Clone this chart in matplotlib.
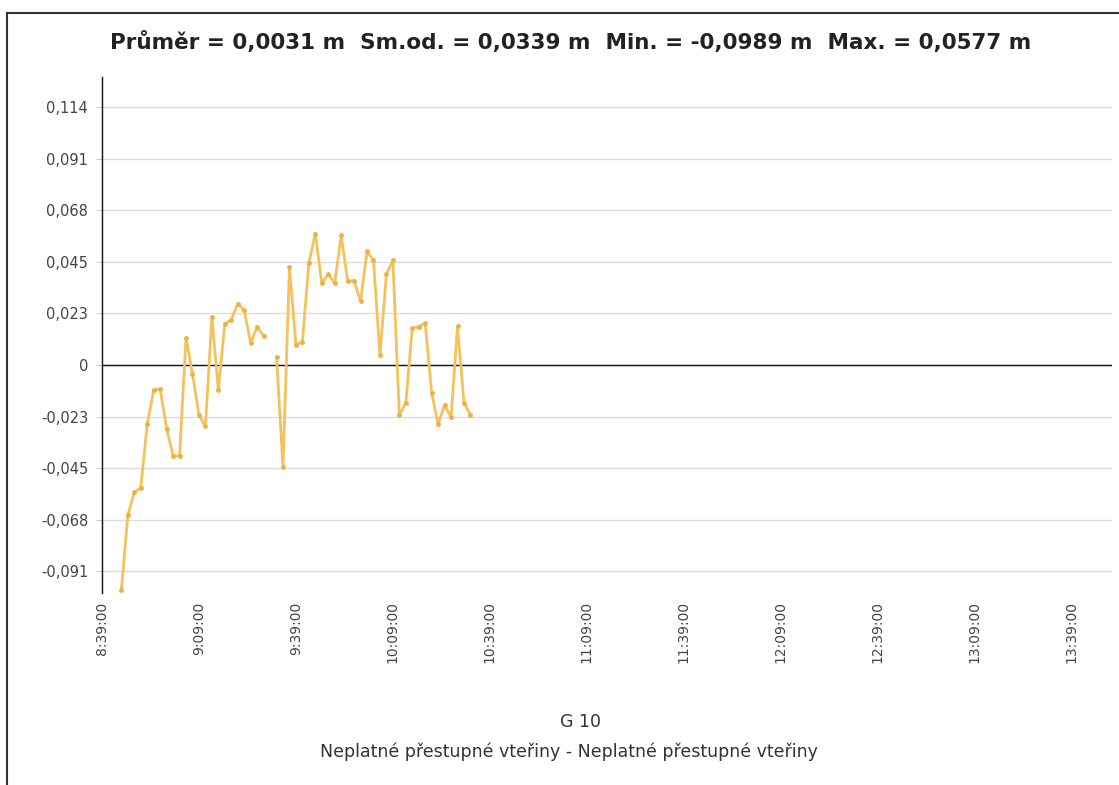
import matplotlib
matplotlib.use("Agg")
import matplotlib.pyplot as plt
import matplotlib.dates as mdates
from matplotlib.ticker import FuncFormatter, FixedLocator
import numpy as np
import pandas as pd

plt.rcParams['font.family'] = ['DejaVu Sans']

title_text = "Průměr = 0,0031 m  Sm.od. = 0,0339 m  Min. = -0,0989 m  Max. = 0,0577 m"
legend_line1 = "G 10"
legend_line2 = "Neplatné přestupné vteřiny - Neplatné přestupné vteřiny"

times = [
    "08:45", "08:47", "08:49", "08:51", "08:53", "08:55", "08:57", "08:59",
    "09:01", "09:03", "09:05", "09:07", "09:09", "09:11", "09:13", "09:15",
    "09:17", "09:19", "09:21", "09:23", "09:25", "09:27", "09:29", "09:31",
    "09:33", "09:35", "09:37", "09:39", "09:41", "09:43", "09:45", "09:47",
    "09:49", "09:51", "09:53", "09:55", "09:57", "09:59", "10:01", "10:03",
    "10:05", "10:07", "10:09", "10:11", "10:13", "10:15", "10:17", "10:19",
    "10:21", "10:23", "10:25", "10:27", "10:29", "10:31", "10:33",
]
values = [
    -0.0989, -0.066, -0.056, -0.054, -0.026, -0.011, -0.0106, -0.028,
    -0.040, -0.040, 0.012, -0.004, -0.022, -0.027, 0.021, -0.011,
    0.018, 0.020, 0.027, 0.024, 0.0097, 0.0167, 0.0128, np.nan,
    0.0035, -0.045, 0.043, 0.009, 0.010, 0.045, 0.0577, 0.036,
    0.040, 0.036, 0.057, 0.037, 0.037, 0.028, 0.050, 0.046,
    0.0044, 0.040, 0.046, -0.022, -0.0167, 0.0163, 0.0167, 0.0185,
    -0.0123, -0.026, -0.0176, -0.023, 0.017, -0.0167, -0.022,
]

y_ticks = [-0.0908, -0.0681, -0.0454, -0.0227, 0.0, 0.0227, 0.0454, 0.0681, 0.0908, 0.1135]
y_tick_labels = ["-0,091", "-0,068", "-0,045", "-0,023", "0", "0,023", "0,045", "0,068", "0,091", "0,114"]

x_ticks = ["08:39", "09:09", "09:39", "10:09", "10:39", "11:09",
           "11:39", "12:09", "12:39", "13:09", "13:39"]
x_range = ["08:39:00", "13:51:30"]
y_range = [-0.1003, 0.1267]

day = "2020-01-01 "
t = pd.to_datetime([day + s for s in times])
v = np.array(values, dtype=float)

fig = plt.figure(figsize=(11.19, 7.85), dpi=100)
ax = fig.add_axes([102/1119, 1 - 593/785, (1112-102)/1119, (593-77)/785])

# outer frame (cropped at right and bottom)
fig.add_artist(plt.Line2D([7/1119, 7/1119], [0, 1 - 13/785], color="#333333", lw=1.5,
                          transform=fig.transFigure))
fig.add_artist(plt.Line2D([7/1119, 1], [1 - 13/785, 1 - 13/785], color="#333333", lw=1.5,
                          transform=fig.transFigure))

ax.plot(t, v, color="#F6C15A", lw=2.0, marker="o", ms=2.5, mfc="#EDB245", mec="#EDB245",
        solid_joinstyle="round", zorder=3)

ax.set_xlim(pd.to_datetime(day + x_range[0]), pd.to_datetime(day + x_range[1]))
ax.set_ylim(*y_range)

ax.set_yticks(y_ticks)
ax.set_yticklabels(y_tick_labels)
ax.yaxis.grid(True, color="#DCDCDC", lw=1.0)
ax.axhline(0, color="#111111", lw=1.0, zorder=2)

xt = pd.to_datetime([day + s for s in x_ticks])
ax.xaxis.set_major_locator(FixedLocator(mdates.date2num(xt)))
ax.xaxis.set_major_formatter(FuncFormatter(
    lambda x, p: "%d:%02d:00" % (mdates.num2date(x).hour, mdates.num2date(x).minute)))

for s in ["top", "right", "bottom"]:
    ax.spines[s].set_visible(False)
ax.spines["left"].set_color("#111111")
ax.spines["left"].set_linewidth(1.0)

ax.tick_params(axis="y", length=4, color="#CCCCCC", labelsize=10.5, labelcolor="#444444", pad=6)
ax.tick_params(axis="x", length=0, labelsize=10, labelcolor="#444444", pad=6, labelrotation=90)

fig.text(571/1119, 1 - 42/785, title_text, ha="center", va="center", fontsize=15.5,
         fontweight="bold", color="#222222")
fig.text(580/1119, 1 - 722/785, legend_line1, ha="center", va="center", fontsize=12.5, color="#333333")
fig.text(569/1119, 1 - 752/785, legend_line2, ha="center", va="center", fontsize=12.5, color="#333333")

fig.savefig("out.png", dpi=100)
